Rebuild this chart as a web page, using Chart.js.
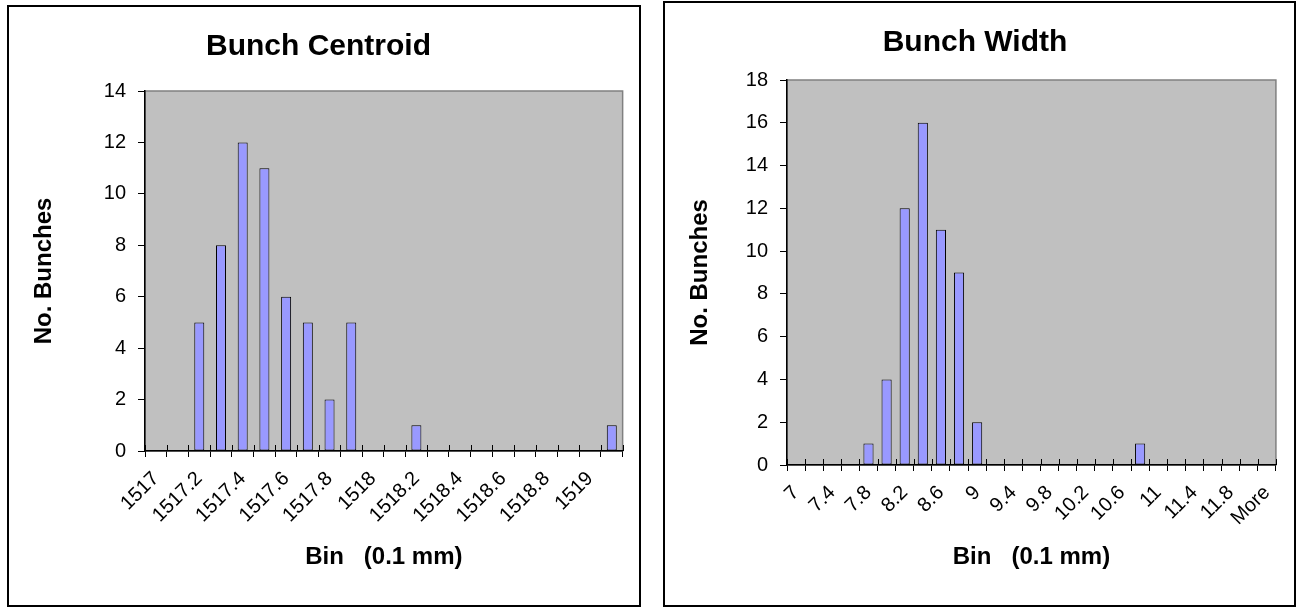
<!DOCTYPE html>
<html>

<head>
    <title>Bunch histograms</title>
    <script src="https://cdn.jsdelivr.net/npm/chart.js"></script>
    <style>
        body {
            margin: 0;
            background: #fff;
        }

        .box {
            position: absolute;
            box-sizing: border-box;
            border: 2px solid #000;
            background: #fff;
        }

        .box canvas {
            display: block;
        }
    </style>
</head>

<body>

    <div class="box" style="left:7px; top:5px; width:634px; height:602px;">
        <canvas id="centroidChart" width="630" height="598"></canvas>
    </div>
    <div class="box" style="left:663px; top:1px; width:633px; height:606px;">
        <canvas id="widthChart" width="629" height="602"></canvas>
    </div>

    <script>
        // Bunch Centroid histogram (bins in 0.1 mm)
        const centroidBins = ['1517', '1517.1', '1517.2', '1517.3', '1517.4', '1517.5', '1517.6', '1517.7',
            '1517.8', '1517.9', '1518', '1518.1', '1518.2', '1518.3', '1518.4', '1518.5', '1518.6',
            '1518.7', '1518.8', '1518.9', '1519', 'More'];
        const centroidCounts = [0, 0, 5, 8, 12, 11, 6, 5, 2, 5, 0, 0, 1, 0, 0, 0, 0, 0, 0, 0, 0, 1];
        const centroidMax = 14;

        // Bunch Width histogram
        const widthBins = ['7', '7.2', '7.4', '7.6', '7.8', '8', '8.2', '8.4', '8.6', '8.8', '9', '9.2',
            '9.4', '9.6', '9.8', '10', '10.2', '10.4', '10.6', '10.8', '11', '11.2', '11.4', '11.6',
            '11.8', '12', 'More'];
        const widthCounts = [0, 0, 0, 0, 1, 4, 12, 16, 11, 9, 2, 0, 0, 0, 0, 0, 0, 0, 0, 1, 0, 0, 0, 0, 0, 0, 0];
        const widthMax = 18;

        const FONT = "'Liberation Sans', Arial, sans-serif";

        // grey plot area with a thin grey frame (Excel style)
        const plotBackground = {
            id: 'plotBackground',
            beforeDraw(chart) {
                const { ctx, chartArea: a } = chart;
                ctx.save();
                ctx.fillStyle = '#c0c0c0';
                ctx.fillRect(a.left, a.top, a.right - a.left, a.bottom - a.top);
                ctx.strokeStyle = '#808080';
                ctx.lineWidth = 1.5;
                ctx.strokeRect(a.left, a.top, a.right - a.left, a.bottom - a.top);
                ctx.restore();
            }
        };

        // x tick marks cross the axis: draw the part above it
        const crossTicks = {
            id: 'crossTicks',
            afterDraw(chart) {
                const { ctx, scales: { x } } = chart;
                const n = x.getLabels().length;
                const step = x.getPixelForValue(1) - x.getPixelForValue(0);
                ctx.save();
                ctx.strokeStyle = '#000';
                ctx.lineWidth = 1;
                for (let i = 0; i <= n; i++) {
                    const px = Math.round(x.getPixelForValue(i) - step / 2) + 0.5;
                    ctx.beginPath();
                    ctx.moveTo(px, x.top);
                    ctx.lineTo(px, x.top - 6);
                    ctx.stroke();
                }
                ctx.restore();
            }
        };

        function makeChart(id, title, bins, counts, yMax, lay) {
            return new Chart(document.getElementById(id), {
                type: 'bar',
                data: {
                    labels: bins,
                    datasets: [{
                        data: counts,
                        backgroundColor: '#9999ff',
                        borderColor: '#000',
                        borderWidth: 1,
                        borderSkipped: false,
                        categoryPercentage: 1,
                        barPercentage: lay.barPct
                    }]
                },
                options: {
                    responsive: false,
                    animation: false,
                    layout: { padding: { left: 0, right: lay.right, top: 0, bottom: 0 } },
                    plugins: {
                        legend: { display: false },
                        tooltip: { enabled: false },
                        title: {
                            display: true,
                            text: title,
                            color: '#000',
                            font: { family: FONT, size: 30, weight: 'bold', lineHeight: 1.2 },
                            padding: { top: lay.titleTop, bottom: lay.titleBottom }
                        }
                    },
                    scales: {
                        x: {
                            afterFit: s => { s.height = lay.xHeight; },
                            border: { color: '#000', width: 1.5 },
                            grid: {
                                offset: true,
                                drawOnChartArea: false,
                                tickLength: 6,
                                color: '#000'
                            },
                            ticks: {
                                autoSkip: false,
                                minRotation: 45,
                                maxRotation: 45,
                                padding: 10,
                                color: '#000',
                                font: { family: FONT, size: 20 },
                                callback: (v, i) => (i % 2 === 0 ? bins[i] : '')
                            },
                            title: {
                                display: true,
                                text: 'Bin   (0.1 mm)',
                                color: '#000',
                                font: { family: FONT, size: 24, weight: 'bold' },
                                padding: { top: 0, bottom: 33 }
                            }
                        },
                        y: {
                            min: 0,
                            max: yMax,
                            afterFit: s => { s.width = lay.yWidth; },
                            border: { color: '#000', width: 1.5 },
                            grid: {
                                drawOnChartArea: false,
                                tickLength: 7,
                                color: '#000'
                            },
                            ticks: {
                                stepSize: 2,
                                padding: 12,
                                color: '#000',
                                font: { family: FONT, size: 20 }
                            },
                            title: {
                                display: true,
                                text: 'No. Bunches',
                                color: '#000',
                                font: { family: FONT, size: 24, weight: 'bold' },
                                padding: { top: 21, bottom: 0 }
                            }
                        }
                    }
                },
                plugins: [plotBackground, crossTicks]
            });
        }

        makeChart('centroidChart', 'Bunch Centroid', centroidBins, centroidCounts, centroidMax,
            { right: 11, yWidth: 136, xHeight: 154, titleTop: 22, titleBottom: 26, barPct: 0.46 });
        makeChart('widthChart', 'Bunch Width', widthBins, widthCounts, widthMax,
            { right: 9, yWidth: 122, xHeight: 140, titleTop: 22, titleBottom: 19, barPct: 0.56 });
    </script>
</body>

</html>
